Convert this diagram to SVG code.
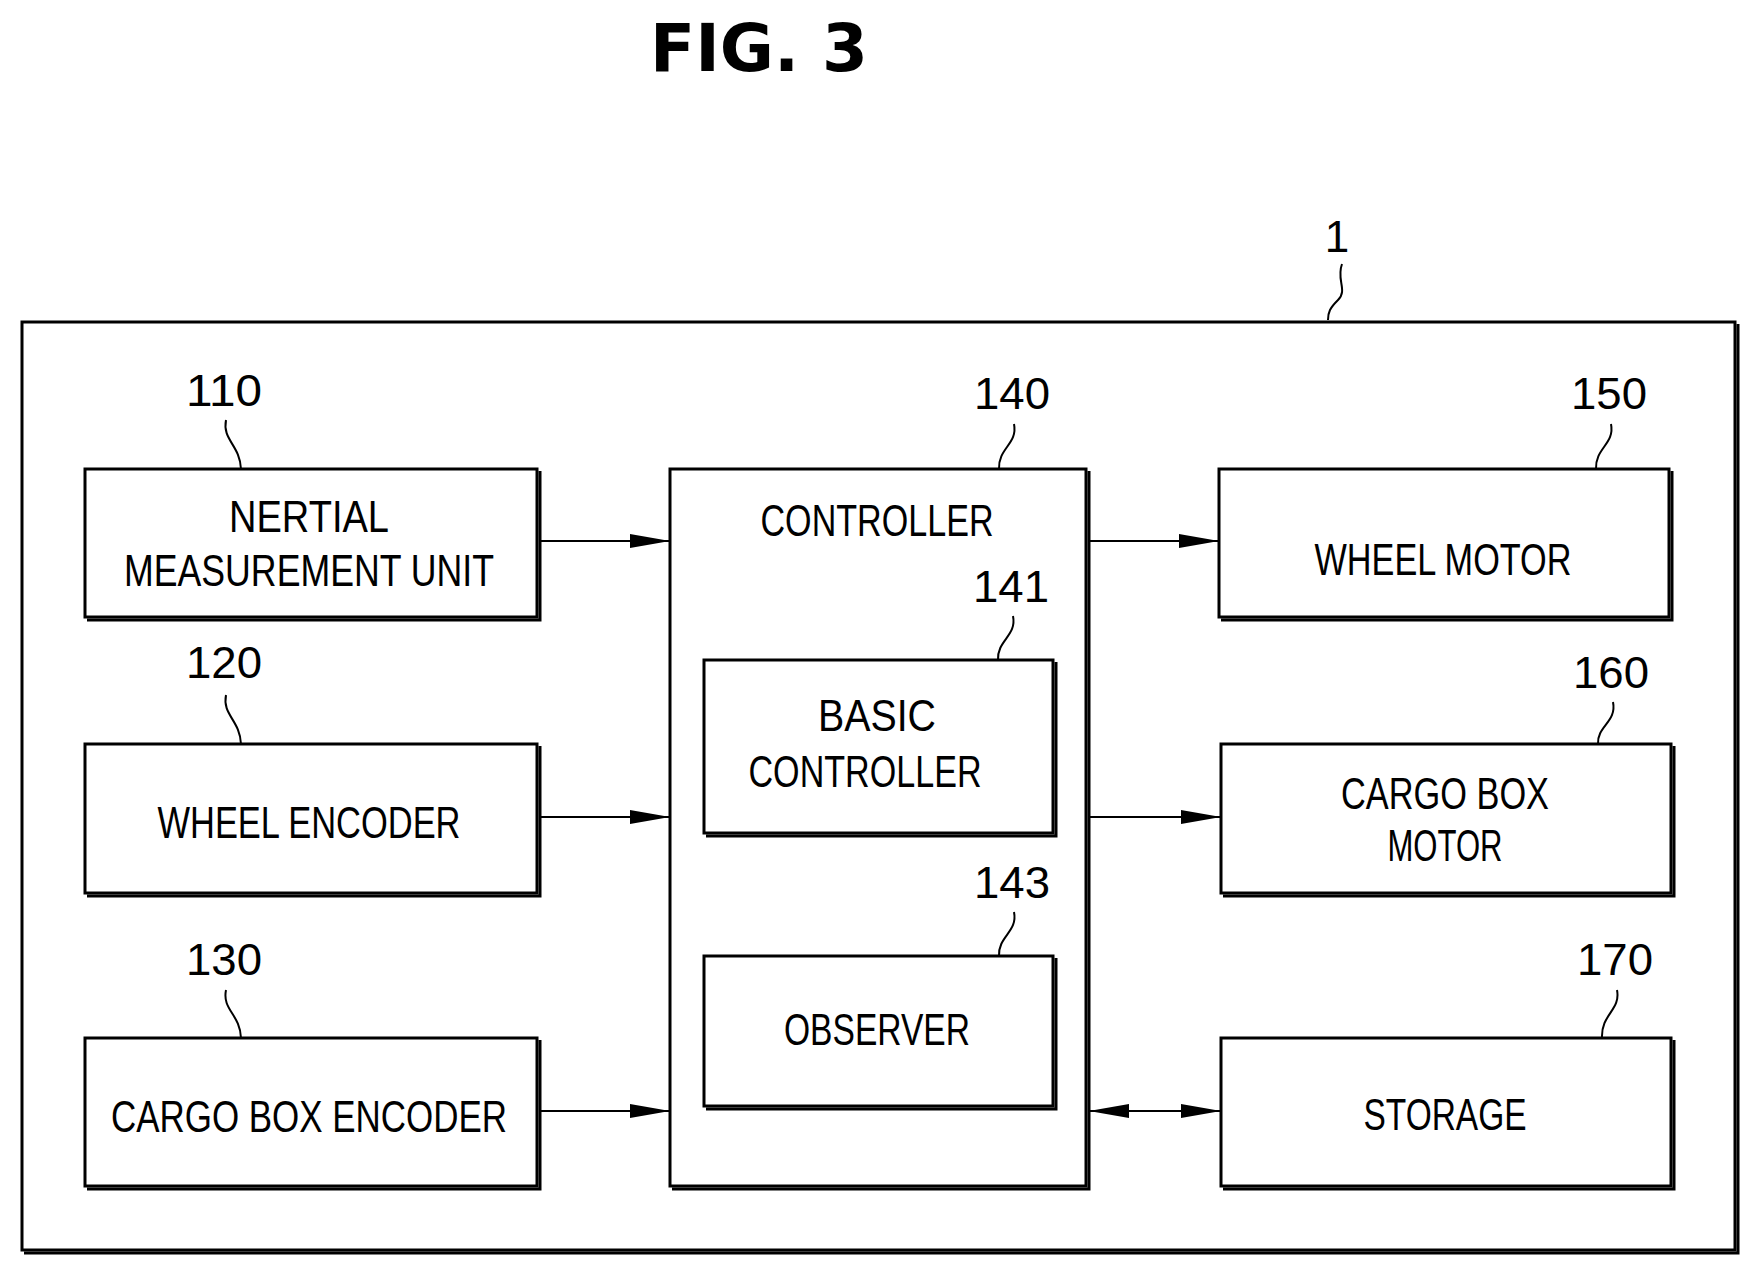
<svg xmlns="http://www.w3.org/2000/svg" width="1758" height="1274" viewBox="0 0 1758 1274">
<style>
.b{fill:none;stroke:#000;stroke-width:3}
.t{font-family:"Liberation Sans",sans-serif;font-size:44px;text-anchor:middle;fill:#000}
.l{fill:none;stroke:#000;stroke-width:2}
.c{stroke:#000;stroke-width:2;fill:none}
</style>
<defs>
<marker id="a" markerWidth="40" markerHeight="16" refX="40" refY="8" orient="auto-start-reverse" markerUnits="userSpaceOnUse"><path d="M0,1 L40,8 L0,15 Z" fill="#000"/></marker>
</defs>
<rect width="1758" height="1274" fill="#fff"/>
<text x="759" y="71" font-family="DejaVu Sans,sans-serif" font-weight="bold" font-size="66" text-anchor="middle">FIG. 3</text>
<g id="system">
<rect class="b" x="22" y="322" width="1713" height="928"/>
<path class="b" d="M24,1253 H1738 V324"/>
<text class="t" x="1337" y="252">1</text>
<path class="l" d="M1342,264 C1336,280 1348,290 1338,300 C1330,308 1328,312 1328,320"/>
</g>
<g id="n110">
<rect class="b" x="85" y="469" width="452" height="148"/><path class="b" d="M87,620 H540 V471"/>
<text class="t" x="309" y="532" textLength="160" lengthAdjust="spacingAndGlyphs">NERTIAL</text>
<text class="t" x="309" y="586" textLength="370" lengthAdjust="spacingAndGlyphs">MEASUREMENT UNIT</text>
<text class="t" x="224" y="406" textLength="76" lengthAdjust="spacingAndGlyphs">110</text>
<path class="l" d="M226,420 C222,440 240,445 241,469"/>
</g>
<g id="n120">
<rect class="b" x="85" y="744" width="452" height="149"/><path class="b" d="M87,896 H540 V746"/>
<text class="t" x="309" y="838" textLength="303" lengthAdjust="spacingAndGlyphs">WHEEL ENCODER</text>
<text class="t" x="224" y="678" textLength="76" lengthAdjust="spacingAndGlyphs">120</text>
<path class="l" d="M226,695 C222,715 240,720 241,744"/>
</g>
<g id="n130">
<rect class="b" x="85" y="1038" width="452" height="148"/><path class="b" d="M87,1189 H540 V1040"/>
<text class="t" x="309" y="1132" textLength="396" lengthAdjust="spacingAndGlyphs">CARGO BOX ENCODER</text>
<text class="t" x="224" y="975" textLength="76" lengthAdjust="spacingAndGlyphs">130</text>
<path class="l" d="M226,990 C222,1010 240,1014 241,1038"/>
</g>
<g id="n140">
<rect class="b" x="670" y="469" width="416" height="717"/><path class="b" d="M672,1189 H1089 V471"/>
<text class="t" x="877" y="536" textLength="233" lengthAdjust="spacingAndGlyphs">CONTROLLER</text>
<text class="t" x="1012" y="409" textLength="76" lengthAdjust="spacingAndGlyphs">140</text>
<path class="l" d="M1014,424 C1018,444 998,448 999,469"/>
</g>
<g id="n141">
<rect class="b" x="704" y="660" width="349" height="173"/><path class="b" d="M706,836 H1056 V662"/>
<text class="t" x="877" y="731" textLength="118" lengthAdjust="spacingAndGlyphs">BASIC</text>
<text class="t" x="865" y="787" textLength="233" lengthAdjust="spacingAndGlyphs">CONTROLLER</text>
<text class="t" x="1011" y="602" textLength="76" lengthAdjust="spacingAndGlyphs">141</text>
<path class="l" d="M1013,616 C1017,636 997,640 998,660"/>
</g>
<g id="n143">
<rect class="b" x="704" y="956" width="349" height="150"/><path class="b" d="M706,1109 H1056 V958"/>
<text class="t" x="877" y="1045" textLength="186" lengthAdjust="spacingAndGlyphs">OBSERVER</text>
<text class="t" x="1012" y="898" textLength="76" lengthAdjust="spacingAndGlyphs">143</text>
<path class="l" d="M1014,912 C1018,932 998,936 999,956"/>
</g>
<g id="n150">
<rect class="b" x="1219" y="469" width="450" height="148"/><path class="b" d="M1221,620 H1672 V471"/>
<text class="t" x="1443" y="575" textLength="257" lengthAdjust="spacingAndGlyphs">WHEEL MOTOR</text>
<text class="t" x="1609" y="409" textLength="76" lengthAdjust="spacingAndGlyphs">150</text>
<path class="l" d="M1611,424 C1615,444 1595,448 1596,469"/>
</g>
<g id="n160">
<rect class="b" x="1221" y="744" width="450" height="149"/><path class="b" d="M1223,896 H1674 V746"/>
<text class="t" x="1445" y="809" textLength="208" lengthAdjust="spacingAndGlyphs">CARGO BOX</text>
<text class="t" x="1445" y="861" textLength="115" lengthAdjust="spacingAndGlyphs">MOTOR</text>
<text class="t" x="1611" y="688" textLength="76" lengthAdjust="spacingAndGlyphs">160</text>
<path class="l" d="M1613,702 C1617,722 1597,726 1598,744"/>
</g>
<g id="n170">
<rect class="b" x="1221" y="1038" width="450" height="148"/><path class="b" d="M1223,1189 H1674 V1040"/>
<text class="t" x="1445" y="1130" textLength="163" lengthAdjust="spacingAndGlyphs">STORAGE</text>
<text class="t" x="1615" y="975" textLength="76" lengthAdjust="spacingAndGlyphs">170</text>
<path class="l" d="M1617,990 C1621,1010 1601,1014 1602,1038"/>
</g>
<g id="connectors">
<line class="c" x1="540" y1="541" x2="670" y2="541" marker-end="url(#a)"/>
<line class="c" x1="540" y1="817" x2="670" y2="817" marker-end="url(#a)"/>
<line class="c" x1="540" y1="1111" x2="670" y2="1111" marker-end="url(#a)"/>
<line class="c" x1="1089" y1="541" x2="1219" y2="541" marker-end="url(#a)"/>
<line class="c" x1="1089" y1="817" x2="1221" y2="817" marker-end="url(#a)"/>
<line class="c" x1="1089" y1="1111" x2="1221" y2="1111" marker-start="url(#a)" marker-end="url(#a)"/>
</g>
</svg>
